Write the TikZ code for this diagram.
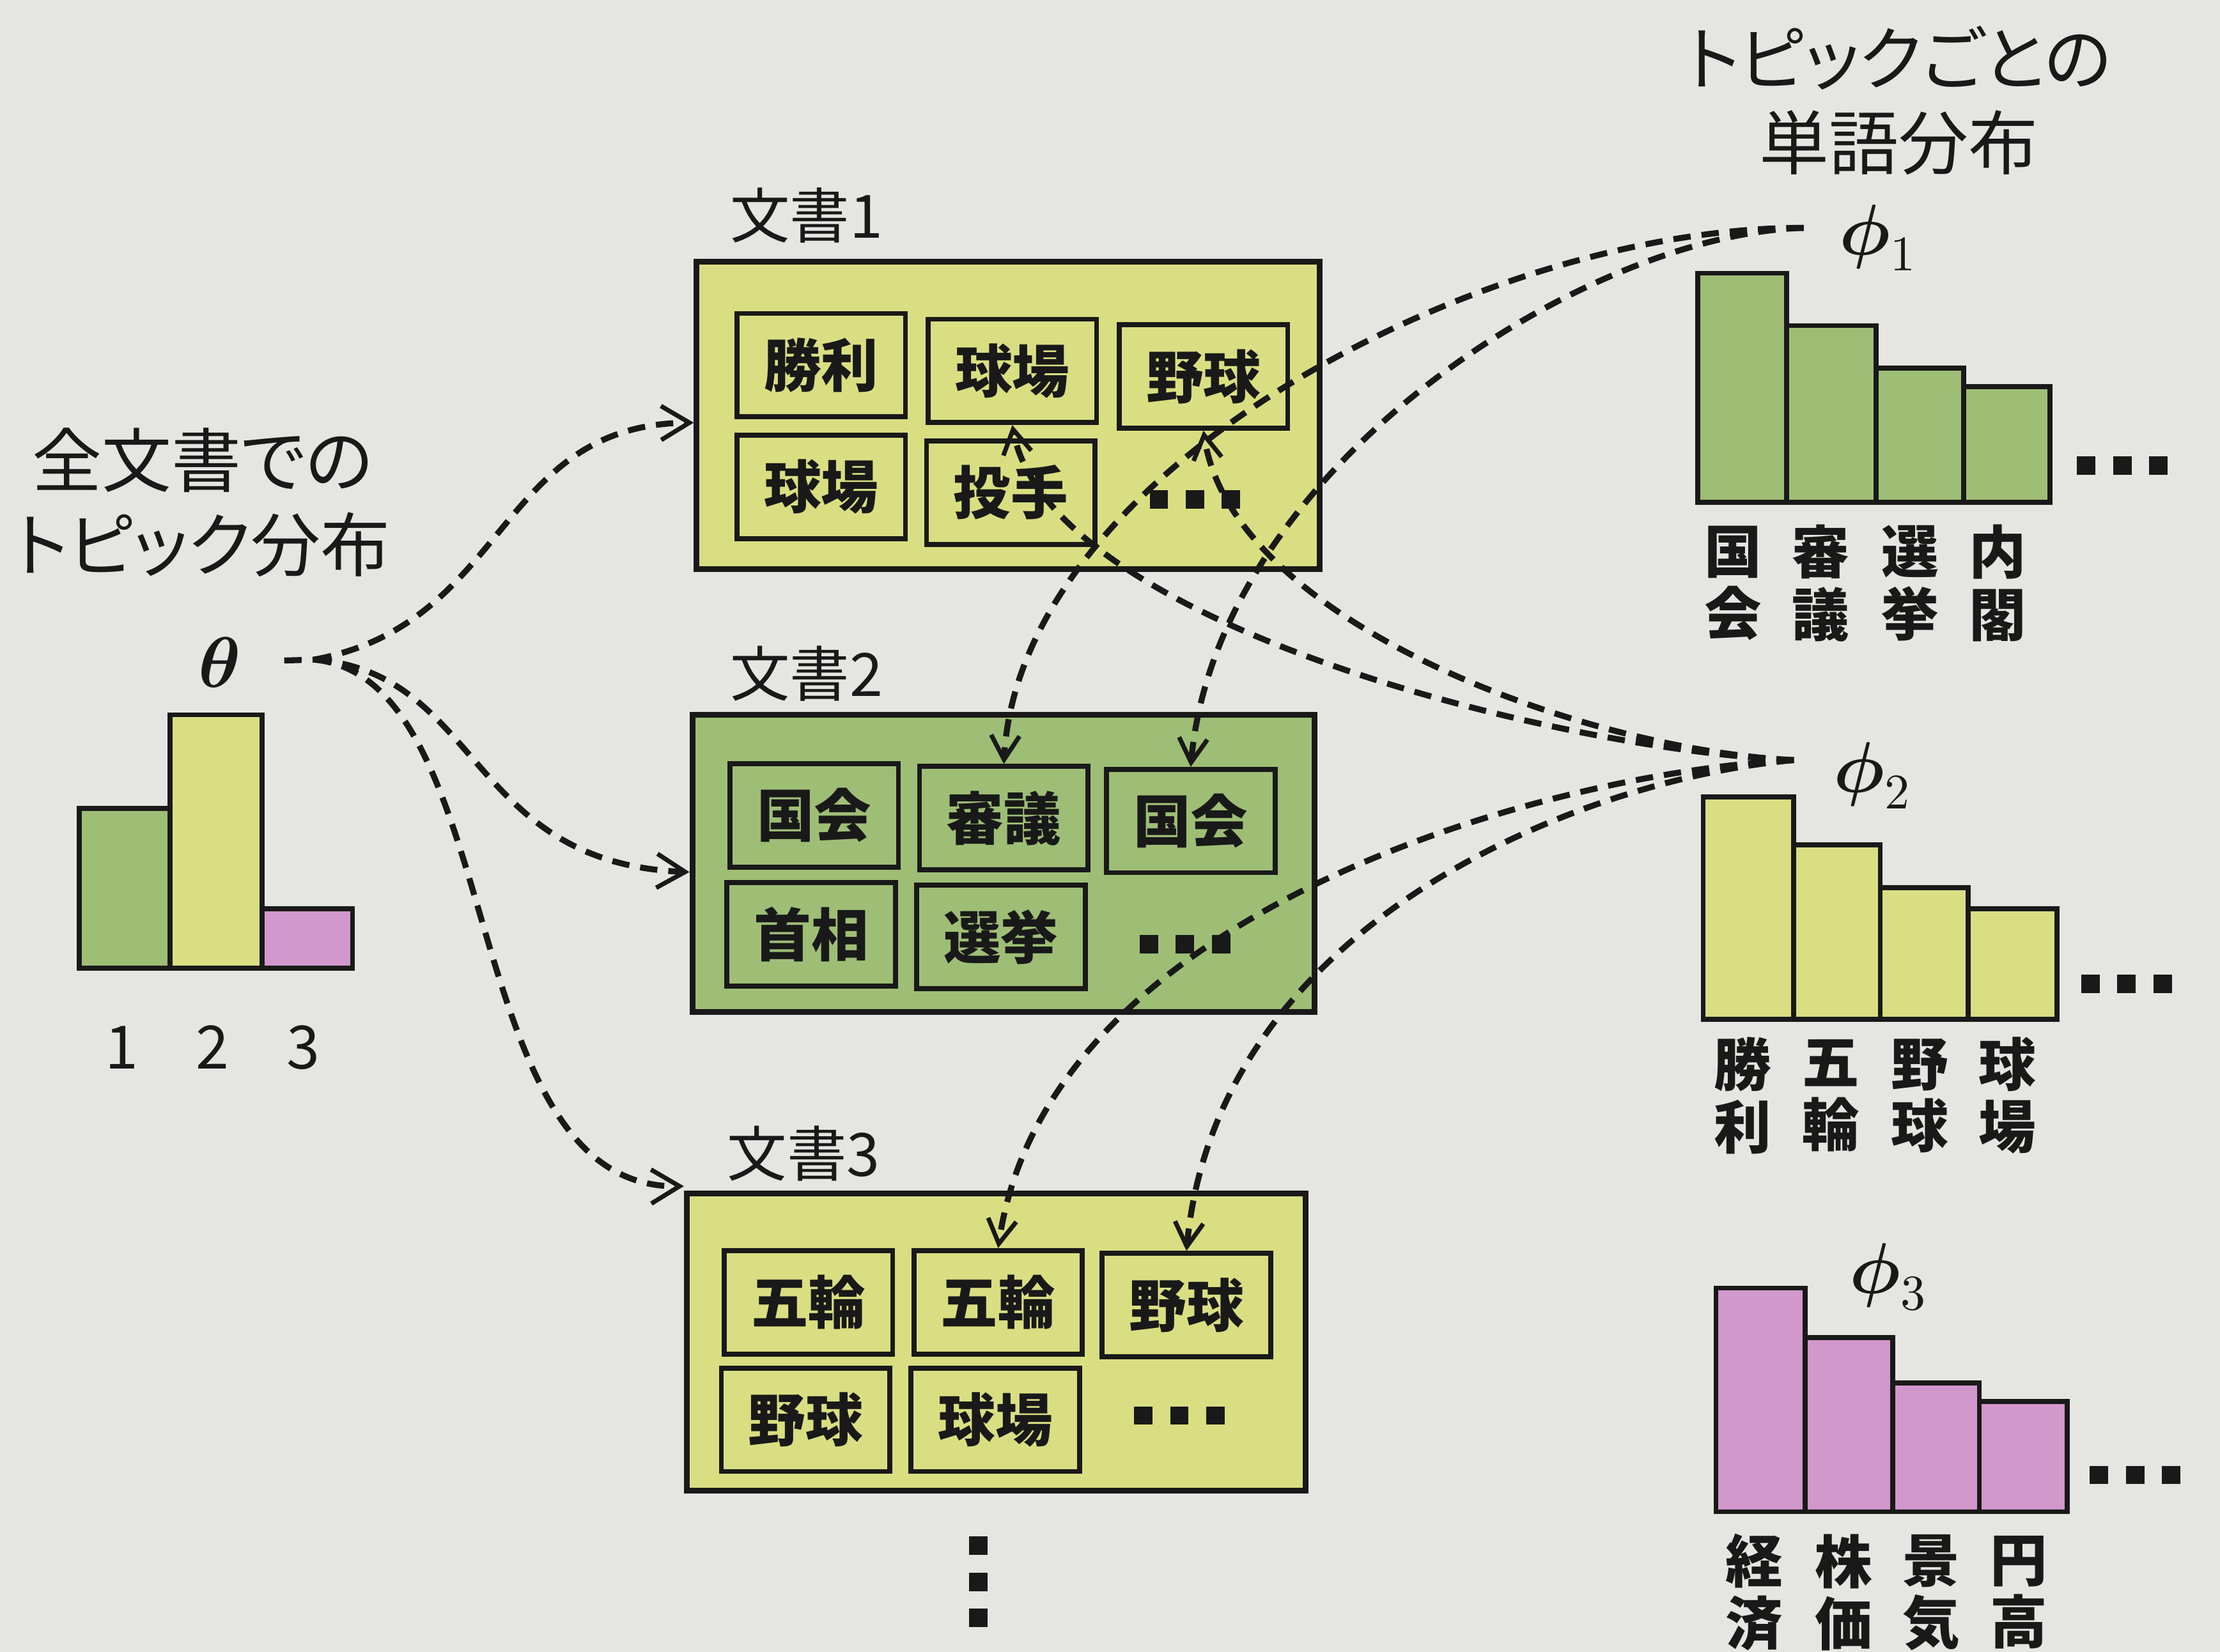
\documentclass[tikz,border=0pt]{standalone}
\usepackage{fontspec}
\usepackage{amsmath}
\usetikzlibrary{arrows.meta}
\newfontfamily\jp{Noto Sans CJK JP}
\newfontfamily\jpp[RawFeature=+palt]{Noto Sans CJK JP}
\definecolor{bg}{RGB}{229,229,226}
\definecolor{yel}{RGB}{218,222,130}
\definecolor{grn}{RGB}{158,190,118}
\definecolor{pnk}{RGB}{210,152,204}
\definecolor{ink}{RGB}{25,25,25}
\newcommand{\sqthree}[2]{\foreach \k in {0,1,2} {\fill[ink] ({#1-32+\k*25.5},{#2-6.5}) rectangle ++(13,13);}}
\begin{document}
\begin{tikzpicture}[x=0.01cm,y=-0.01cm,
  ttl/.style={font=\jpp\fontsize{14}{17}\selectfont, align=center, text=ink, inner sep=0},
  doclabel/.style={font=\jp\fontsize{12}{14}\selectfont, anchor=west, inner sep=0, text=ink},
  docbox/.style={draw=ink, line width=1.15pt, anchor=north west, inner sep=0},
  word/.style={draw=ink, line width=1pt, minimum width=1.19cm, minimum height=0.73cm, inner sep=0, font=\jp\bfseries\fontsize{11.5}{13}\selectfont, text=ink},
  barbox/.style={draw=ink, line width=1pt},
  barlab/.style={font=\jp\bfseries\fontsize{11.5}{12.5}\selectfont, align=center, inner sep=0, text=ink},
  numlab/.style={font=\jp\fontsize{12}{14}\selectfont, inner sep=0, text=ink},
  greek/.style={font=\fontsize{14.5}{17}\selectfont, inner sep=0, text=ink},
  conn/.style={draw=ink, line width=1.2pt, dash pattern=on 3.5pt off 2.2pt},
  bigtip/.style={-{Straight Barb[length=0.2cm,width=0.24cm,line width=0.9pt]}},
  smalltip/.style={-{Straight Barb[length=0.17cm,width=0.2cm,line width=0.9pt]}}
]
\fill[bg] (0,0) rectangle (1568,1167);
\useasboundingbox (0,0) rectangle (1568,1167);

% titles
\node[ttl] (ttlL) at (143,355) {全文書での\\トピック分布};
\node[ttl] (ttlR) at (1341,71) {トピックごとの\\単語分布};

% theta distribution
\node[greek] (theta) at (155,468) {$\boldsymbol{\theta}$};
\draw[barbox, fill=grn] (56,571) rectangle (120,684);
\draw[barbox, fill=yel] (120,505) rectangle (185,684);
\draw[barbox, fill=pnk] (185,642) rectangle (249,684);
\node[numlab] (n1) at (86,740) {1};
\node[numlab] (n2) at (150,740) {2};
\node[numlab] (n3) at (214,740) {3};

% documents
\node[doclabel] (l1) at (515,152) {文書1};
\node[docbox, fill=yel, minimum width=4.40cm, minimum height=2.17cm] (d1) at (490,183) {};
\node[word] (a1) at (580,258) {勝利};
\node[word] (a2) at (715,262) {球場};
\node[word] (a3) at (850,266) {野球};
\node[word] (a4) at (580,344) {球場};
\node[word] (a5) at (714,348) {投手};
\sqthree{844}{353}

\node[doclabel] (l2) at (515,476) {文書2};
\node[docbox, fill=grn, minimum width=4.39cm, minimum height=2.10cm] (d2) at (487,503) {};
\node[word] (b1) at (575,576) {国会};
\node[word] (b2) at (709,578) {審議};
\node[word] (b3) at (841,580) {国会};
\node[word] (b4) at (573,660) {首相};
\node[word] (b5) at (707,662) {選挙};
\sqthree{837}{667}

\node[doclabel] (l3) at (513,815) {文書3};
\node[docbox, fill=yel, minimum width=4.37cm, minimum height=2.10cm] (d3) at (483,841) {};
\node[word] (c1) at (571,920) {五輪};
\node[word] (c2) at (705,920) {五輪};
\node[word] (c3) at (838,922) {野球};
\node[word] (c4) at (569,1003) {野球};
\node[word] (c5) at (703,1003) {球場};
\sqthree{833}{1000}
\foreach \yy in {1092,1117.5,1143} {\fill[ink] (684.5,{\yy-6.5}) rectangle ++(13,13);}

% topic-word distributions
\node[greek] (phi1) at (1327,168) {$\boldsymbol{\phi}_1$};
\draw[barbox, fill=grn] (1199,193) rectangle (1262,355);
\draw[barbox, fill=grn] (1262,230) rectangle (1325,355);
\draw[barbox, fill=grn] (1325,260) rectangle (1387,355);
\draw[barbox, fill=grn] (1387,273) rectangle (1448,355);
\sqthree{1499}{329}
\node[barlab] (g1) at (1224,412) {国\\会};
\node[barlab] (g2) at (1286,412) {審\\議};
\node[barlab] (g3) at (1349,412) {選\\挙};
\node[barlab] (g4) at (1411,412) {内\\閣};

\node[greek] (phi2) at (1323,548) {$\boldsymbol{\phi}_2$};
\draw[barbox, fill=yel] (1203,563) rectangle (1267,720);
\draw[barbox, fill=yel] (1267,597) rectangle (1328,720);
\draw[barbox, fill=yel] (1328,627) rectangle (1390,720);
\draw[barbox, fill=yel] (1390,642) rectangle (1453,720);
\sqthree{1502}{695}
\node[barlab] (h1) at (1231,774) {勝\\利};
\node[barlab] (h2) at (1293,774) {五\\輪};
\node[barlab] (h3) at (1356,774) {野\\球};
\node[barlab] (h4) at (1418,774) {球\\場};

\node[greek] (phi3) at (1334,902) {$\boldsymbol{\phi}_3$};
\draw[barbox, fill=pnk] (1212,910) rectangle (1275,1068);
\draw[barbox, fill=pnk] (1275,945) rectangle (1337,1068);
\draw[barbox, fill=pnk] (1337,977) rectangle (1398,1068);
\draw[barbox, fill=pnk] (1398,990) rectangle (1460,1068);
\sqthree{1508}{1042}
\node[barlab] (k1) at (1239,1125) {経\\済};
\node[barlab] (k2) at (1302,1125) {株\\価};
\node[barlab] (k3) at (1364,1125) {景\\気};
\node[barlab] (k4) at (1426,1125) {円\\高};

% connectors from theta
\coordinate (hub) at (222,466);
\draw[conn, shorten <=0.3cm] (theta) -- (hub);
\draw[conn, bigtip] (hub) .. controls (360,440) and (350,300) .. ([yshift=-0.05cm]d1.west);
\draw[conn, bigtip] (hub) .. controls (340,475) and (330,610) .. ([yshift=-0.06cm]d2.west);
\draw[conn, bigtip] (hub) .. controls (360,480) and (320,840) .. ([yshift=0.03cm]d3.north west);

% connectors from topics to words
\coordinate (p1) at (1274,161);
\coordinate (p2) at (1267,537);
\draw[conn, smalltip] (p1) .. controls (1050,160) and (720,330) .. (b2.north);
\draw[conn, smalltip] (p1) .. controls (1120,165) and (860,330) .. (b3.north);
\draw[conn, smalltip] (p2) .. controls (1100,530) and (740,440) .. (a2.south);
\draw[conn, smalltip] (p2) .. controls (1120,530) and (870,440) .. (a3.south);
\draw[conn, smalltip] (p2) .. controls (1100,545) and (740,640) .. (c2.north);
\draw[conn, smalltip] (p2) .. controls (1120,550) and (860,650) .. (c3.north);
\end{tikzpicture}
\end{document}
